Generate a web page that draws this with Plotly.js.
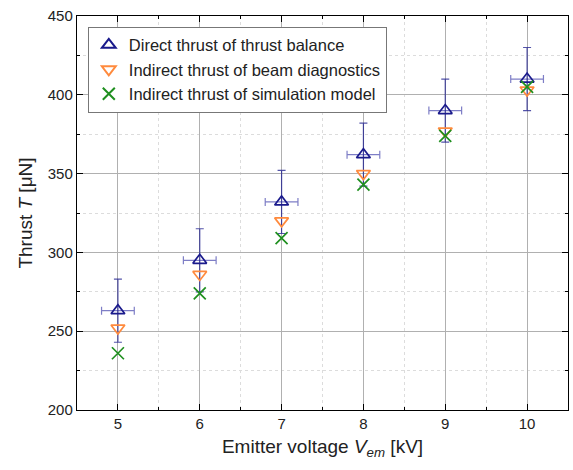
<!DOCTYPE html>
<html><head><meta charset="utf-8">
<script src="https://cdn.plot.ly/plotly-3.0.1.min.js"></script>
<style>html,body{margin:0;padding:0;background:#fff}</style>
</head><body>
<div id="chart" style="width:573px;height:470px"></div>
<script>
const voltage = [5, 6, 7, 8, 9, 10];
const directThrust = [263, 295, 332, 362, 390, 410];
const directErrY = [20, 20, 20, 20, 20, 20];
const directErrX = [0.2, 0.2, 0.2, 0.2, 0.2, 0.2];
const beamThrust = [252, 286, 320, 350, 377, 403];
const simThrust = [236, 274, 309, 343, 374, 405];
const xTicks = [5, 6, 7, 8, 9, 10];
const yTicks = [200, 250, 300, 350, 400, 450];

const navy = '#1a1a8c';
const traces = [
  {x: voltage, y: directThrust, type: 'scatter', mode: 'markers',
   name: 'Direct thrust of thrust balance',
   marker: {symbol: 'triangle-up-open', size: 12, color: navy, line: {width: 1.7, color: navy}},
   error_y: {type: 'data', array: directErrY, visible: true, color: 'rgba(26,26,140,0.75)', thickness: 1.2, width: 4},
   error_x: {type: 'data', array: directErrX, visible: true, color: 'rgba(40,40,160,0.6)', thickness: 1.2, width: 4}},
  {x: voltage, y: beamThrust, type: 'scatter', mode: 'markers',
   name: 'Indirect thrust of beam diagnostics',
   marker: {symbol: 'triangle-down-open', size: 12, color: '#ff8a3d', line: {width: 1.7, color: '#ff8a3d'}}},
  {x: voltage, y: simThrust, type: 'scatter', mode: 'markers',
   name: 'Indirect thrust of simulation model',
   marker: {symbol: 'x-thin-open', size: 12, color: '#1f8f1f', line: {width: 1.7, color: '#1f8f1f'}}}
];

const font = {family: 'Liberation Sans, Arial, sans-serif', color: '#222'};
const layout = {
  width: 573, height: 470,
  margin: {l: 77, r: 5, t: 16, b: 60},
  paper_bgcolor: '#fff', plot_bgcolor: '#fff',
  font: font,
  showlegend: true,
  legend: {x: 0.022, y: 0.973, xanchor: 'left', yanchor: 'top',
    bgcolor: '#fff', bordercolor: '#777', borderwidth: 1,
    font: {family: font.family, size: 16.5, color: '#222'},
    tracegroupgap: 0, itemsizing: 'constant'},
  xaxis: {range: [4.5, 10.5], tickvals: xTicks, ticktext: xTicks.map(String),
    ticks: 'inside', ticklen: 6, tickcolor: '#000', tickwidth: 1,
    minor: {dtick: 0.5, ticks: 'inside', ticklen: 3, tickcolor: '#000', showgrid: true, gridcolor: '#dcdcdc', griddash: 'dot', gridwidth: 1},
    showline: true, linecolor: '#000', linewidth: 1.2, mirror: 'ticks',
    showgrid: true, gridcolor: '#b0b0b0', gridwidth: 1, zeroline: false,
    tickfont: {size: 15, color: '#222'},
    title: {text: 'Emitter voltage <i>V</i><sub><i>em</i></sub> [kV]', font: {size: 19, color: '#222'}, standoff: 8}},
  yaxis: {range: [200, 450], tickvals: yTicks, ticktext: yTicks.map(String),
    ticks: 'inside', ticklen: 6, tickcolor: '#000', tickwidth: 1,
    minor: {dtick: 25, ticks: 'inside', ticklen: 3, tickcolor: '#000', showgrid: true, gridcolor: '#dcdcdc', griddash: 'dot', gridwidth: 1},
    showline: true, linecolor: '#000', linewidth: 1.2, mirror: 'ticks',
    showgrid: true, gridcolor: '#b0b0b0', gridwidth: 1, zeroline: false,
    tickfont: {size: 15, color: '#222'},
    title: {text: 'Thrust <i>T</i> [μN]', font: {size: 19, color: '#222'}, standoff: 10}}
};
Plotly.newPlot('chart', traces, layout, {displayModeBar: false, staticPlot: true});
</script>
</body></html>
